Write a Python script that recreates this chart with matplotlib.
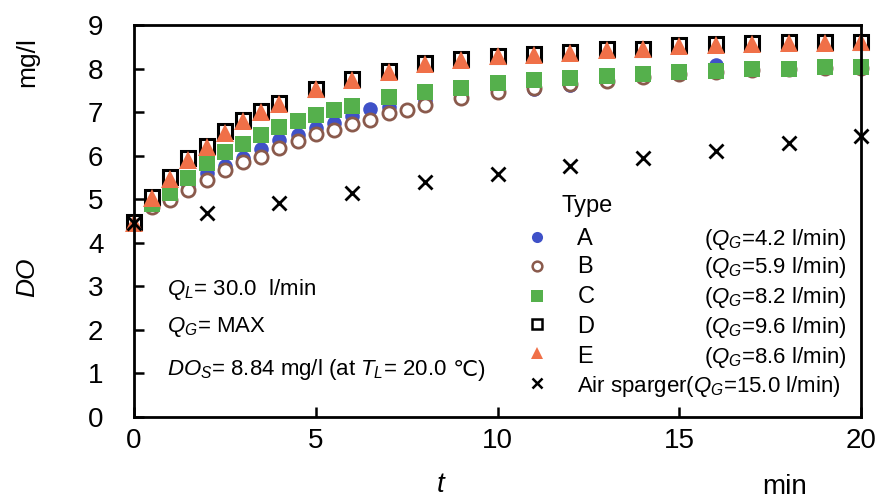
import matplotlib
matplotlib.use("Agg")
import matplotlib.pyplot as plt
from matplotlib import font_manager

# Narrow sans face if present, otherwise regular Liberation Sans
names = {f.name for f in font_manager.fontManager.ttflist}
FACE = "Liberation Sans Narrow" if "Liberation Sans Narrow" in names else "Liberation Sans"
plt.rcParams["font.family"] = [FACE, "DejaVu Sans"]
plt.rcParams["mathtext.fontset"] = "custom"
plt.rcParams["mathtext.rm"] = FACE
plt.rcParams["mathtext.it"] = FACE + ":italic"

# ---- data: dissolved oxygen (mg/l) against time (min) ----
half_to_6_5 = [0, 0.5, 1, 1.5, 2, 2.5, 3, 3.5, 4, 4.5, 5, 5.5, 6, 6.5]
t_A = half_to_6_5 + list(range(7, 21))
do_A = [4.45, 4.88, 5.05, 5.32, 5.60, 5.76, 5.94, 6.15, 6.36, 6.48, 6.64, 6.76, 6.90, 7.08,
        7.12, 7.27, 7.38, 7.50, 7.54, 7.62, 7.73, 7.80, 7.90, 8.08, 7.98, 8.00, 8.02, 8.03]

t_B = [0, 0.5, 1, 1.5, 2, 2.5, 3, 3.5, 4, 4.5, 5, 5.5, 6, 6.5, 7, 7.5, 8] + list(range(9, 21))
do_B = [4.45, 4.83, 4.98, 5.20, 5.45, 5.66, 5.85, 5.98, 6.18, 6.33, 6.50, 6.60, 6.72, 6.83,
        6.97, 7.06, 7.17, 7.32, 7.46, 7.55, 7.64, 7.72, 7.80, 7.87, 7.93, 7.97, 7.99, 8.01, 8.02]

t_C = [0, 0.5, 1, 1.5, 2, 2.5, 3, 3.5, 4, 4.5, 5, 5.5, 6] + list(range(7, 21))
do_C = [4.45, 4.88, 5.15, 5.48, 5.82, 6.08, 6.27, 6.48, 6.66, 6.80, 6.94, 7.04, 7.13,
        7.34, 7.46, 7.56, 7.66, 7.73, 7.79, 7.83, 7.88, 7.91, 7.95, 7.99, 8.00, 8.03, 8.04]

t_D = [0, 0.5, 1, 1.5, 2, 2.5, 3, 3.5, 4] + list(range(5, 21))
do_D = [4.47, 5.06, 5.50, 5.94, 6.22, 6.56, 6.82, 7.03, 7.20, 7.54, 7.76, 7.95, 8.12, 8.21,
        8.30, 8.33, 8.38, 8.44, 8.46, 8.54, 8.57, 8.59, 8.60, 8.61, 8.62]

t_E = t_D
do_E = [4.45, 5.03, 5.47, 5.91, 6.19, 6.53, 6.79, 7.00, 7.18, 7.52, 7.74, 7.93, 8.10, 8.19,
        8.28, 8.31, 8.36, 8.42, 8.44, 8.52, 8.55, 8.57, 8.58, 8.59, 8.60]

t_air = [0, 2, 4, 6, 8, 10, 12, 14, 16, 18, 20]
do_air = [4.45, 4.68, 4.92, 5.14, 5.40, 5.57, 5.77, 5.94, 6.10, 6.30, 6.46]

types = ["A", "B", "C", "D", "E", "Air sparger"]
flows = ["4.2", "5.9", "8.2", "9.6", "8.6", "15.0"]

c_blue = "#3f51c8"
c_brown = "#8a5a4c"
c_green = "#55b04c"
c_orange = "#f07048"

fig = plt.figure(figsize=(8.87, 5.01), dpi=100)
ax = fig.add_axes([0.151, 0.168, 0.820, 0.782])

common = dict(linestyle="none", clip_on=False)
ax.plot(t_A, do_A, marker="o", ms=10.5, mfc=c_blue, mec=c_blue, mew=0, zorder=2.0, **common)
ax.plot(t_B, do_B, marker="o", ms=9.5, mfc="white", mec=c_brown, mew=2.0, zorder=2.05, **common)
ax.plot(t_C, do_C, marker="s", ms=12.0, mfc=c_green, mec=c_green, mew=0, zorder=2.1, **common)
ax.plot(t_D, do_D, marker="s", ms=10.5, mfc="white", mec="black", mew=2.2, zorder=2.15, **common)
ax.plot(t_E, do_E, marker="^", ms=12.5, mfc=c_orange, mec=c_orange, mew=0, zorder=2.2, **common)
ax.plot(t_air, do_air, marker="x", ms=9.5, mfc="black", mec="black", mew=2.0, zorder=2.25, **common)

ax.set_xlim(0, 20)
ax.set_ylim(0, 9)
ax.set_xticks([0, 5, 10, 15, 20])
ax.set_yticks(range(0, 10))
ax.tick_params(direction="in", length=7, width=1.8, labelsize=20)
ax.tick_params(axis="x", pad=8)
ax.tick_params(axis="y", pad=22)
for s in ax.spines.values():
    s.set_linewidth(2.0)

# axis titles
ax.text(-0.147, 0.905, "mg/l", transform=ax.transAxes, rotation=90,
        ha="center", va="center", fontsize=19)
ax.text(-0.147, 0.355, "DO", transform=ax.transAxes, rotation=90,
        ha="center", va="center", fontsize=19, style="italic")
ax.text(0.421, -0.175, "t", transform=ax.transAxes, ha="center", va="center",
        fontsize=20, style="italic")
ax.text(0.895, -0.18, "min", transform=ax.transAxes, ha="center", va="center",
        fontsize=20)

# operating conditions
fs = 16
ax.text(0.92, 2.80, r"$Q_L$= 30.0  l/min", fontsize=fs, ha="left", va="baseline")
ax.text(0.92, 1.95, r"$Q_G$= MAX", fontsize=fs, ha="left", va="baseline")
sat = ax.text(0.92, 0.96, r"$DO_S$= 8.84 mg/l (at $T_L$= 20.0", fontsize=fs,
              ha="left", va="baseline")
# the degree-Celsius sign is set as plain text so it can fall back to DejaVu Sans
ax.annotate(" ℃)", xy=(1, 0), xycoords=sat, xytext=(0, 0.5),
            textcoords="offset points", fontsize=fs, ha="left", va="bottom")

# legend block
ax.text(11.75, 4.71, "Type", fontsize=fs + 1, ha="left", va="baseline")
row_marker_y = [4.13, 3.47, 2.78, 2.13, 1.47, 0.78]
row_text_y = [3.95, 3.31, 2.62, 1.93, 1.24, 0.57]
styles = [
    dict(marker="o", ms=8, mfc=c_blue, mec=c_blue, mew=0),
    dict(marker="o", ms=7, mfc="white", mec=c_brown, mew=1.8),
    dict(marker="s", ms=8, mfc=c_green, mec=c_green, mew=0),
    dict(marker="s", ms=7, mfc="white", mec="black", mew=1.8),
    dict(marker="^", ms=9, mfc=c_orange, mec=c_orange, mew=0),
    dict(marker="x", ms=7, mfc="black", mec="black", mew=1.8),
]
for name, q, ym, yt, st in zip(types, flows, row_marker_y, row_text_y, styles):
    ax.plot([11.09], [ym], linestyle="none", clip_on=False, zorder=3, **st)
    if name == "Air sparger":
        ax.text(12.19, yt, name + r"($Q_G$=" + q + " l/min)", fontsize=fs,
                ha="left", va="baseline")
    else:
        ax.text(12.19, yt, name, fontsize=fs + 1, ha="left", va="baseline")
        ax.text(19.6, yt, r"($Q_G$=" + q + " l/min)", fontsize=fs,
                ha="right", va="baseline")

fig.savefig("out.png", dpi=100)
